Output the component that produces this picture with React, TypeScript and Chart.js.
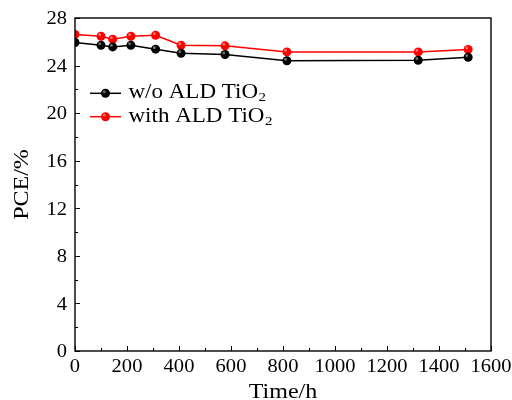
import React, { useEffect, useRef } from "react";
import { Chart, registerables } from "chart.js";

Chart.register(...registerables);

const timeH = [0, 100, 145, 215, 310, 408, 577, 815, 1320, 1512];
const withoutALD = [25.94, 25.71, 25.57, 25.71, 25.38, 25.04, 24.93, 24.41, 24.45, 24.7];
const withALD = [26.61, 26.47, 26.22, 26.47, 26.55, 25.71, 25.66, 25.15, 25.15, 25.35];
const seriesNames = ["w/o ALD TiO", "with ALD TiO"];
const seriesSub = ["2", "2"];
const seriesColors = ["#000000", "#ff0000"];
const xTicks = [0, 200, 400, 600, 800, 1000, 1200, 1400, 1600];
const yTicks = [0, 4, 8, 12, 16, 20, 24, 28];
const xTitle = "Time/h";
const yTitle = "PCE/%";

const FONT = "'Liberation Serif', 'DejaVu Serif', serif";

function scaledText(ctx: any, text: string, x: number, y: number, sx: number, align: string) {
  ctx.save();
  ctx.translate(x, y);
  ctx.scale(sx, 1);
  ctx.textAlign = align;
  ctx.fillText(text, 0, 0);
  ctx.restore();
}

const decorPlugin = {
  id: "decor",
  afterDatasetsDraw(chart: any) {
    const ctx = chart.ctx;
    ctx.save();
    chart.data.datasets.forEach((_: any, di: number) => {
      const meta = chart.getDatasetMeta(di);
      meta.data.forEach((pt: any) => {
        ctx.fillStyle = "rgba(255,255,255,0.45)";
        ctx.beginPath();
        ctx.arc(pt.x - 1.3, pt.y - 1.5, 1.4, 0, Math.PI * 2);
        ctx.fill();
      });
    });
    ctx.restore();
  },
  afterDraw(chart: any) {
    const ctx = chart.ctx;
    const ca = chart.chartArea;
    const xs = chart.scales.x;
    const ys = chart.scales.y;
    ctx.save();
    ctx.strokeStyle = "#000";
    ctx.lineWidth = 1.4;
    ctx.strokeRect(ca.left, ca.top, ca.right - ca.left, ca.bottom - ca.top);
    // inward ticks
    ctx.lineWidth = 1;
    for (let v = 0; v <= 1600; v += 100) {
      const px = Math.round(xs.getPixelForValue(v)) + 0.5;
      const len = v % 200 === 0 ? 5 : 3;
      ctx.beginPath();
      ctx.moveTo(px, ca.bottom);
      ctx.lineTo(px, ca.bottom - len);
      ctx.stroke();
    }
    for (let v = 0; v <= 28; v += 2) {
      const py = Math.round(ys.getPixelForValue(v)) + 0.5;
      const len = v % 4 === 0 ? 5 : 3;
      ctx.beginPath();
      ctx.moveTo(ca.left, py);
      ctx.lineTo(ca.left + len, py);
      ctx.stroke();
    }
    ctx.fillStyle = "#000";
    ctx.textBaseline = "alphabetic";
    // tick labels
    ctx.font = `19px ${FONT}`;
    xTicks.forEach((v) => {
      scaledText(ctx, String(v), xs.getPixelForValue(v), ca.bottom + 21, 1.08, "center");
    });
    yTicks.forEach((v) => {
      scaledText(ctx, String(v), ca.left - 8, ys.getPixelForValue(v) + 6.3, 1.08, "right");
    });
    // axis titles
    ctx.font = `20px ${FONT}`;
    scaledText(ctx, xTitle, (ca.left + ca.right) / 2, 398, 1.2, "center");
    ctx.save();
    ctx.translate(28, (ca.top + ca.bottom) / 2);
    ctx.rotate(-Math.PI / 2);
    ctx.scale(1.2, 1);
    ctx.textAlign = "center";
    ctx.fillText(yTitle, 0, 0);
    ctx.restore();
    // legend
    const legY = [93.3, 116.7];
    for (let i = 0; i < seriesNames.length; i++) {
      const y = legY[i];
      ctx.strokeStyle = seriesColors[i];
      ctx.lineWidth = 1.5;
      ctx.beginPath();
      ctx.moveTo(90, y);
      ctx.lineTo(121, y);
      ctx.stroke();
      ctx.fillStyle = seriesColors[i];
      ctx.beginPath();
      ctx.arc(105.5, y, 4.5, 0, Math.PI * 2);
      ctx.fill();
      ctx.fillStyle = "rgba(255,255,255,0.45)";
      ctx.beginPath();
      ctx.arc(104.2, y - 1.5, 1.4, 0, Math.PI * 2);
      ctx.fill();
      ctx.fillStyle = "#000";
      ctx.font = `20px ${FONT}`;
      const sx = 1.15;
      scaledText(ctx, seriesNames[i], 128.5, y + 5, sx, "left");
      const w = ctx.measureText(seriesNames[i]).width * sx;
      ctx.font = `13px ${FONT}`;
      scaledText(ctx, seriesSub[i], 128.5 + w + 0.5, y + 8, sx, "left");
    }
    ctx.restore();
  },
};

export default function App() {
  const ref = useRef<HTMLCanvasElement>(null);
  useEffect(() => {
    document.body.style.margin = "0";
    const chart = new Chart(ref.current!, {
      type: "line",
      data: {
        datasets: [
          {
            label: seriesNames[0],
            data: timeH.map((x, i) => ({ x, y: withoutALD[i] })),
            borderColor: seriesColors[0],
            backgroundColor: seriesColors[0],
            pointBackgroundColor: seriesColors[0],
            pointBorderWidth: 0,
            pointRadius: 4.5,
            borderWidth: 1.5,
          },
          {
            label: seriesNames[1],
            data: timeH.map((x, i) => ({ x, y: withALD[i] })),
            borderColor: seriesColors[1],
            backgroundColor: seriesColors[1],
            pointBackgroundColor: seriesColors[1],
            pointBorderWidth: 0,
            pointRadius: 4.5,
            borderWidth: 1.5,
          },
        ],
      },
      options: {
        responsive: false,
        animation: false,
        layout: { padding: { top: 18, right: 21, left: 0, bottom: 0 } },
        plugins: { legend: { display: false }, tooltip: { enabled: false } },
        scales: {
          x: {
            type: "linear",
            min: 0,
            max: 1600,
            ticks: { display: false, stepSize: 200 },
            grid: { display: false, drawTicks: false },
            border: { display: false },
            afterFit: (s: any) => { s.height = 49; },
          },
          y: {
            min: 0,
            max: 28,
            ticks: { display: false, stepSize: 4 },
            grid: { display: false, drawTicks: false },
            border: { display: false },
            afterFit: (s: any) => { s.width = 75; },
          },
        },
      },
      plugins: [decorPlugin],
    });
    return () => chart.destroy();
  }, []);
  return (
    <div style={{ width: 512, height: 400 }}>
      <canvas ref={ref} width={512} height={400} />
    </div>
  );
}
